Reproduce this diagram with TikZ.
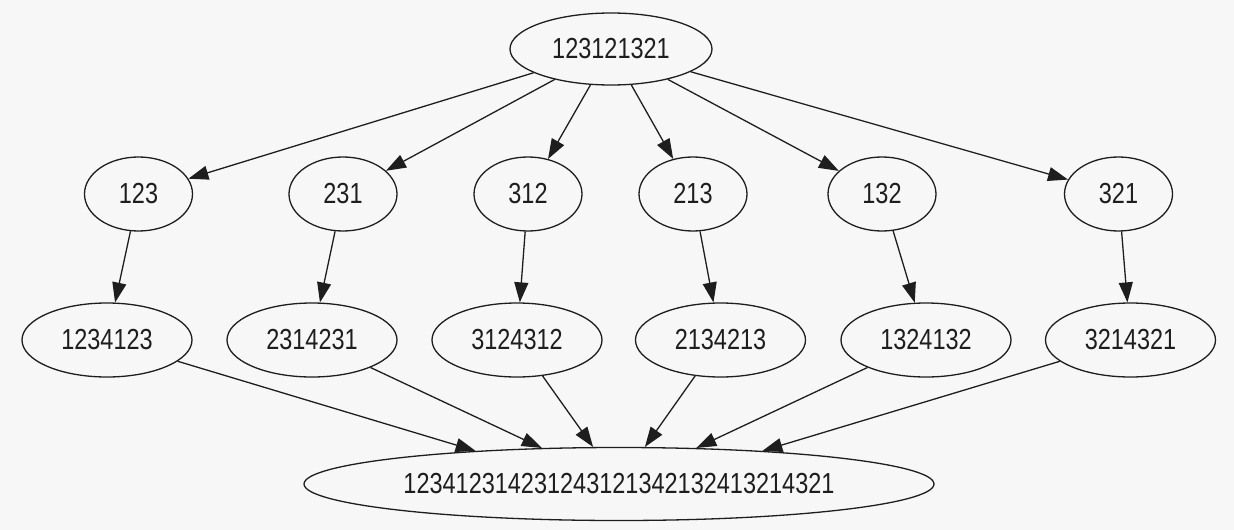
\documentclass[tikz,border=0pt]{standalone}
\usepackage{fontspec}
\newfontfamily\labfont[FakeStretch=0.81]{Liberation Sans}
\usetikzlibrary{arrows.meta,shapes.geometric}
\definecolor{bg}{HTML}{F7F7F7}
\definecolor{ink}{HTML}{1E1E1E}
\begin{document}
\begin{tikzpicture}[x=1pt,y=-1pt,
  nd/.style={ellipse, draw=ink, line width=1.3pt, inner sep=0pt, text=ink,
    font=\labfont\fontsize{29}{30}\selectfont},
  small/.style={nd, minimum width=108pt, minimum height=74pt},
  mid/.style={nd, minimum width=170pt, minimum height=74pt},
  conn/.style={draw=ink, line width=1.3pt, -{Triangle[length=20pt,width=14pt]}}]
\fill[bg] (0,0) rectangle (1234,530);
\useasboundingbox (0,0) rectangle (1234,530);

\node[nd, minimum width=202pt, minimum height=72pt] (top) at (611,49) {123121321};

\node[small] (a1) at (138.5,194) {123};
\node[small] (a2) at (343,194) {231};
\node[small] (a3) at (528,194) {312};
\node[small] (a4) at (693,194) {213};
\node[small] (a5) at (882,194) {132};
\node[small] (a6) at (1118.5,194) {321};

\node[mid] (b1) at (107,340) {1234123};
\node[mid] (b2) at (312,340) {2314231};
\node[mid] (b3) at (517,340) {3124312};
\node[mid] (b4) at (720.5,340) {2134213};
\node[mid] (b5) at (926,340) {1324132};
\node[mid] (b6) at (1130.5,340) {3214321};

\node[nd, minimum width=630pt, minimum height=73pt] (bot) at (619,484) {123412314231243121342132413214321};

\foreach \i in {1,...,6} {
  \draw[conn] (top) -- (a\i);
  \draw[conn] (a\i) -- (b\i);
}
\draw[conn] (b1) -- (bot.167);
\draw[conn] (b2) -- (bot.155);
\draw[conn] (b3) -- (bot.125);
\draw[conn] (b4) -- (bot.55);
\draw[conn] (b5) -- (bot.25);
\draw[conn] (b6) -- (bot.13);
\end{tikzpicture}
\end{document}
